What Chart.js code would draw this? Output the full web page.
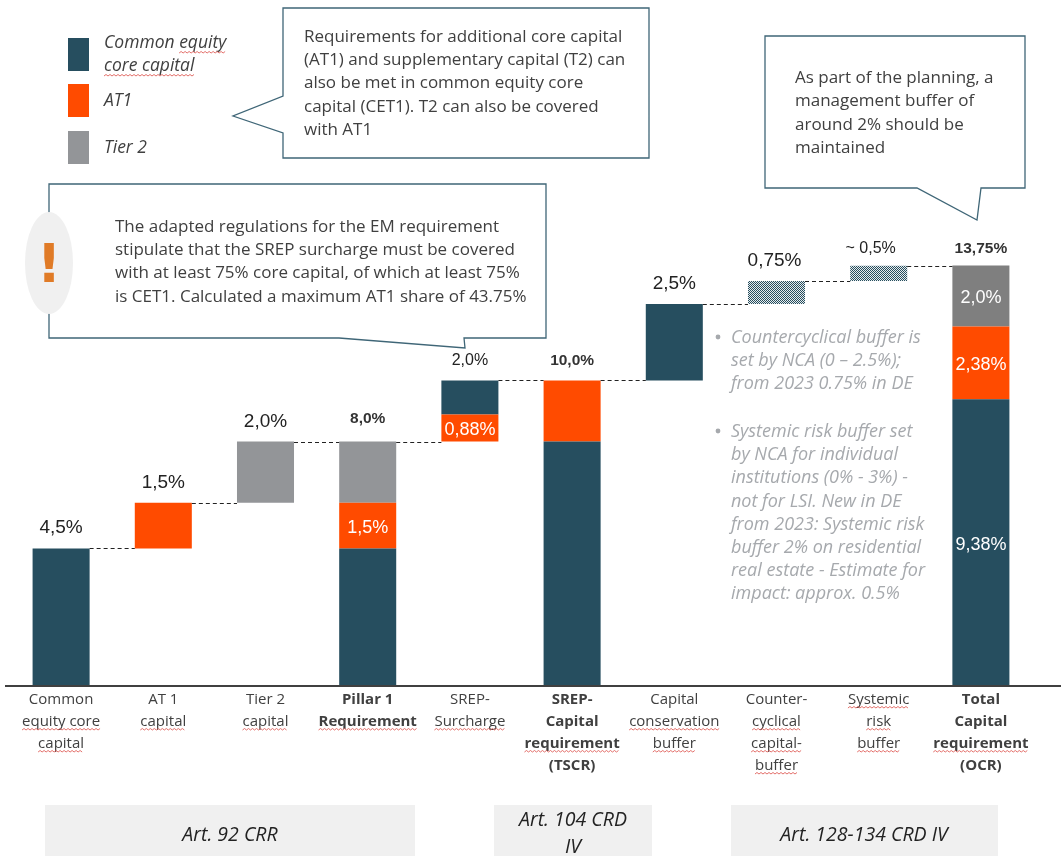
<!DOCTYPE html>
<html>
<head>
<meta charset="utf-8">
<style>
  html, body { margin: 0; padding: 0; background: #fff; }
  canvas { display: block; }
</style>
<script src="https://cdn.jsdelivr.net/npm/chart.js@4/dist/chart.umd.min.js"></script>
</head>
<body>
<canvas id="capitalChart" width="1061" height="856"></canvas>
<script>
// categories and series (values in %)
const CATEGORIES = [
  ['Common', 'equity core', 'capital'],
  ['AT 1', 'capital'],
  ['Tier 2', 'capital'],
  ['Pillar 1', 'Requirement'],
  ['SREP-', 'Surcharge'],
  ['SREP-', 'Capital', 'requirement', '(TSCR)'],
  ['Capital', 'conservation', 'buffer'],
  ['Counter-', 'cyclical', 'capital-', 'buffer'],
  ['Systemic', 'risk', 'buffer'],
  ['Total', 'Capital', 'requirement', '(OCR)']
];
const BOLD_CATS = [3, 5, 9];
const OFFSET_BASE = [0, 4.5, 6, 0, 8, 0, 10, 12.5, 13.25, 0];
const CET1 = [4.5, 0, 0, 4.5, 0, 8, 2.5, 0, 0, 9.38];
const AT1 = [0, 1.5, 0, 1.5, 0.88, 2, 0, 0, 0, 2.38];
const TIER2 = [0, 0, 2, 2, 0, 0, 0, 0, 0, 0];
const TOTAL_T2 = [0, 0, 0, 0, 0, 0, 0, 0, 0, 2];
const CET1_UPPER = [0, 0, 0, 0, 1.12, 0, 0, 0, 0, 0];
const BUFFER = [0, 0, 0, 0, 0, 0, 0, 0.75, 0.5, 0];
const TOPS = [4.5, 6, 8, 8, 10, 10, 12.5, 13.25, 13.75, 13.75];
const TOP_LABELS = ['4,5%', '1,5%', '2,0%', '8,0%', '2,0%', '10,0%', '2,5%', '0,75%', '~ 0,5%', '13,75%'];
const INNER_LABELS = [
  { cat: 3, mid: 5.25, text: '1,5%' },
  { cat: 4, mid: 8.44, text: '0,88%' },
  { cat: 9, mid: 4.69, text: '9,38%' },
  { cat: 9, mid: 10.57, text: '2,38%' },
  { cat: 9, mid: 12.76, text: '2,0%' }
];

const DARK = '#264e5f';
const ORANGE = '#ff4b00';
const GREY = '#939598';
const TEXT = '#404040';
const LINE = '#3f6677';
const SANS = '"Open Sans", sans-serif';

// dithered fill for the two buffer bars
function hatchPattern() {
  const c = document.createElement('canvas');
  c.width = 2; c.height = 2;
  const x = c.getContext('2d');
  x.fillStyle = '#e8eced'; x.fillRect(0, 0, 2, 2);
  x.fillStyle = '#264e5f'; x.fillRect(0, 0, 1, 1); x.fillRect(1, 1, 1, 1);
  return x.createPattern(c, 'repeat');
}

function squiggle(ctx, x0, x1, y) {
  ctx.save();
  ctx.strokeStyle = '#e0605a';
  ctx.lineWidth = 0.9;
  ctx.beginPath();
  ctx.moveTo(x0, y);
  let up = true;
  for (let x = x0 + 2; x <= x1; x += 2) { ctx.lineTo(x, y + (up ? -1.5 : 0)); up = !up; }
  ctx.stroke();
  ctx.restore();
}

function textLines(ctx, lines, x, ys, font, color, align) {
  ctx.font = font; ctx.fillStyle = color; ctx.textAlign = align || 'left'; ctx.textBaseline = 'middle';
  lines.forEach(function (t, i) { ctx.fillText(t, x, ys[i]); });
}

function callout(ctx, pts) {
  ctx.beginPath();
  pts.forEach(function (p, i) { if (i) ctx.lineTo(p[0], p[1]); else ctx.moveTo(p[0], p[1]); });
  ctx.closePath();
  ctx.fillStyle = '#fff'; ctx.fill();
  ctx.strokeStyle = LINE; ctx.lineWidth = 1.3; ctx.stroke();
}

// connectors, value labels, callouts and side notes
const overlay = {
  id: 'overlay',
  afterDraw: function (chart) {
    const ctx = chart.ctx, xs = chart.scales.x, ys = chart.scales.y;
    const half = chart.getDatasetMeta(1).data[0].width / 2;
    ctx.save();

    // baseline runs past the plot area on both sides
    ctx.strokeStyle = '#404040'; ctx.lineWidth = 2;
    ctx.beginPath(); ctx.moveTo(5, ys.getPixelForValue(0)); ctx.lineTo(1061, ys.getPixelForValue(0)); ctx.stroke();

    // dashed steps between the bars
    ctx.strokeStyle = '#222'; ctx.lineWidth = 1; ctx.setLineDash([4, 3]);
    for (let i = 0; i < TOPS.length - 1; i++) {
      const y = Math.round(ys.getPixelForValue(TOPS[i])) + 0.5;
      ctx.beginPath();
      ctx.moveTo(xs.getPixelForValue(i) + half, y);
      ctx.lineTo(xs.getPixelForValue(i + 1) - half, y);
      ctx.stroke();
    }
    ctx.setLineDash([]);

    // labels on top of the bars
    ctx.textAlign = 'center'; ctx.textBaseline = 'alphabetic';
    TOP_LABELS.forEach(function (t, i) {
      const bold = BOLD_CATS.indexOf(i) >= 0, small = bold || i === 4 || i === 8;
      ctx.font = (bold ? 'bold 15.5px' : small ? '16px' : '19px') + ' "Liberation Sans", sans-serif';
      ctx.fillStyle = bold ? '#333' : '#222';
      const dx = i === 8 ? -8 : i === 7 ? -2 : 0;
      const dy = i === 3 ? 19 : i === 9 || i === 8 ? 13 : 15;
      ctx.fillText(t, xs.getPixelForValue(i) + dx, ys.getPixelForValue(TOPS[i]) - dy);
    });
    ctx.font = '18px "Liberation Sans", sans-serif'; ctx.fillStyle = '#fff'; ctx.textBaseline = 'middle';
    INNER_LABELS.forEach(function (l) { ctx.fillText(l.text, xs.getPixelForValue(l.cat), ys.getPixelForValue(l.mid) + 2); });

    // spell-check underlines under the axis labels, as in the source slide
    CATEGORIES.forEach(function (lines, i) {
      ctx.font = (BOLD_CATS.indexOf(i) >= 0 ? 'bold ' : '') + '15px ' + SANS;
      lines.forEach(function (t, k) {
        if (k === 0 && i !== 8) return;
        if (t === 'Capital' || t.charAt(0) === '(') return;
        const w = ctx.measureText(t).width, cx = xs.getPixelForValue(i);
        squiggle(ctx, cx - w / 2, cx + w / 2, 708 + 22 * k);
      });
    });

    // legend
    [[DARK, 38], [ORANGE, 84], [GREY, 131]].forEach(function (s) {
      ctx.fillStyle = s[0]; ctx.fillRect(68, s[1], 21, 33);
    });
    const LEGEND_FONT = 'italic 17.5px ' + SANS;
    textLines(ctx, ['Common equity', 'core capital', 'AT1', 'Tier 2'], 104, [43, 66, 101, 148], LEGEND_FONT, TEXT);
    ctx.font = LEGEND_FONT;
    const commonW = ctx.measureText('Common ').width, lineW = ctx.measureText('Common equity').width;
    squiggle(ctx, 104 + commonW, 104 + lineW, 53);
    squiggle(ctx, 104, 104 + ctx.measureText('core capital').width, 76);

    // callouts
    const BOX_FONT = '17px ' + SANS;
    callout(ctx, [[283, 8], [649, 8], [649, 158], [283, 158], [283, 133], [233, 116], [283, 96]]);
    textLines(ctx, [
      'Requirements for additional core capital',
      '(AT1) and supplementary capital (T2) can',
      'also be met in common equity core',
      'capital (CET1). T2 can also be covered',
      'with AT1'
    ], 304, [37, 60, 83, 107, 130], BOX_FONT, TEXT);

    callout(ctx, [[49, 184], [546, 184], [546, 338], [464, 338], [465, 348], [339, 338], [49, 338]]);
    textLines(ctx, [
      'The adapted regulations for the EM requirement',
      'stipulate that the SREP surcharge must be covered',
      'with at least 75% core capital, of which at least 75%',
      'is CET1. Calculated a maximum AT1 share of 43.75%'
    ], 115, [227, 250, 273, 297], BOX_FONT, TEXT);
    ctx.fillStyle = '#f0f0f0';
    ctx.beginPath(); ctx.ellipse(49, 263, 24, 51, 0, 0, Math.PI * 2); ctx.fill();
    textLines(ctx, ['!'], 49, [268], 'bold 54px "DejaVu Sans", sans-serif', '#e07b27', 'center');

    callout(ctx, [[765, 36], [1025, 36], [1025, 188], [981, 188], [977, 220], [917, 188], [765, 188]]);
    textLines(ctx, [
      'As part of the planning, a',
      'management buffer of',
      'around 2% should be',
      'maintained'
    ], 795, [78, 101, 125, 148], BOX_FONT, TEXT);

    // grey notes next to the buffers
    const NOTE = '#a6a9ad';
    textLines(ctx, [
      'Countercyclical buffer is',
      'set by NCA (0 \u2013 2.5%);',
      'from 2023 0.75% in DE',
      'Systemic risk buffer set',
      'by NCA for individual',
      'institutions (0% - 3%) -',
      'not for LSI. New in DE',
      'from 2023: Systemic risk',
      'buffer 2% on residential',
      'real estate - Estimate for',
      'impact: approx. 0.5%'
    ], 731, [338, 361, 384, 432, 455, 478, 502, 525, 548, 571, 594], 'italic 18px ' + SANS, NOTE);
    ctx.fillStyle = NOTE;
    [338, 432].forEach(function (y) { ctx.beginPath(); ctx.arc(718, y - 1, 2.4, 0, Math.PI * 2); ctx.fill(); });

    // article boxes below the axis
    ctx.fillStyle = '#f0f0f0';
    ctx.fillRect(45, 805, 370, 51); ctx.fillRect(494, 805, 158, 51); ctx.fillRect(731, 805, 267, 51);
    const ART_FONT = 'italic 19.5px ' + SANS;
    textLines(ctx, ['Art. 92 CRR'], 230, [835], ART_FONT, '#222', 'center');
    textLines(ctx, ['Art. 104 CRD', 'IV'], 573, [820, 847], ART_FONT, '#222', 'center');
    textLines(ctx, ['Art. 128-134 CRD IV'], 864, [835], ART_FONT, '#222', 'center');
    ctx.restore();
  }
};

function barSet(label, data, color) {
  return { label: label, data: data, backgroundColor: color, borderWidth: 0, barPercentage: 0.558, categoryPercentage: 1 };
}

new Chart(document.getElementById('capitalChart'), {
  type: 'bar',
  data: {
    labels: CATEGORIES,
    datasets: [
      barSet('Offset', OFFSET_BASE, 'rgba(0,0,0,0)'),
      barSet('Common equity core capital', CET1, DARK),
      barSet('AT1', AT1, ORANGE),
      barSet('Tier 2', TIER2, GREY),
      barSet('Tier 2 (total)', TOTAL_T2, '#7f7f7f'),
      barSet('Common equity core capital (upper)', CET1_UPPER, DARK),
      barSet('Buffers', BUFFER, hatchPattern())
    ]
  },
  options: {
    responsive: false,
    animation: false,
    layout: { padding: { left: 10, right: 29, top: 197, bottom: 0 } },
    plugins: { legend: { display: false }, tooltip: { enabled: false } },
    scales: {
      x: {
        stacked: true,
        grid: { display: false, drawTicks: false },
        border: { display: false },
        afterFit: function (scale) { scale.height = 170; },
        ticks: {
          autoSkip: false, maxRotation: 0, minRotation: 0, padding: 3,
          color: TEXT,
          font: function (ctx) {
            return { family: SANS, size: 15, lineHeight: 22 / 15, weight: BOLD_CATS.indexOf(ctx.index) >= 0 ? 'bold' : 'normal' };
          }
        }
      },
      y: { stacked: true, display: false, min: 0, max: 16 }
    }
  },
  plugins: [overlay]
});
</script>
</body>
</html>
